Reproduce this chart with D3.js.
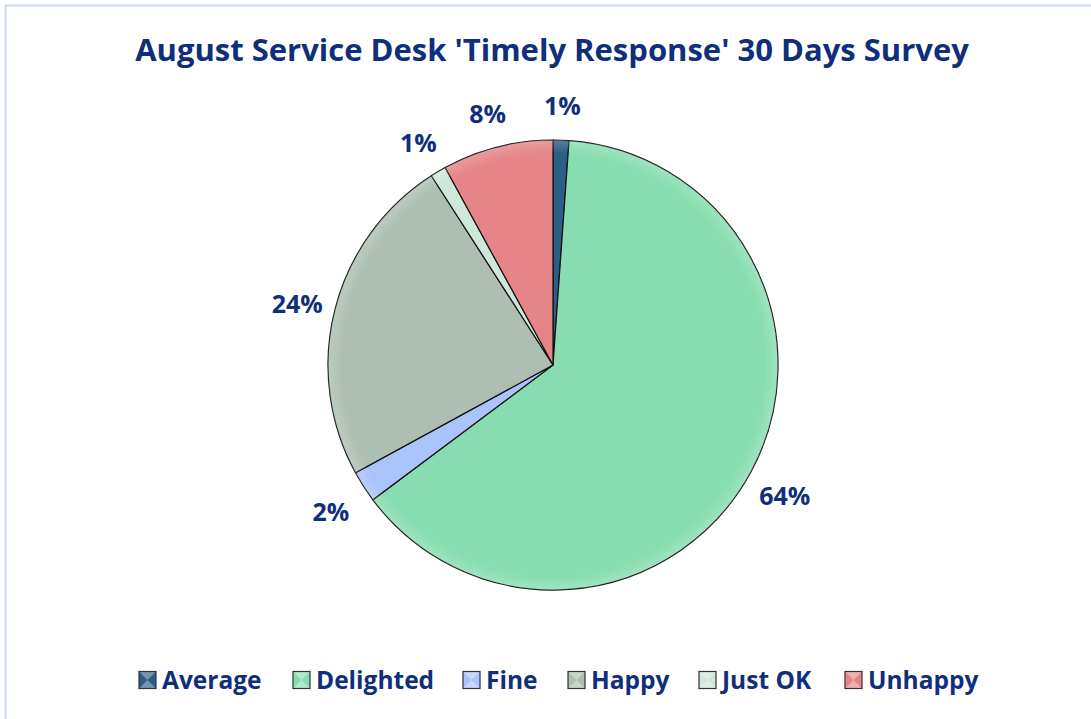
<!DOCTYPE html>
<html>
<head>
<meta charset="utf-8">
<script src="https://cdn.jsdelivr.net/npm/d3@7"></script>
<style>
  body { margin: 0; background: #fff; }
  text { font-family: "Open Sans", Lato, sans-serif; font-weight: bold; fill: #0f2f7a; }
</style>
</head>
<body>
<script>
 // survey responses (counts)
 const categories = ['Average', 'Delighted', 'Fine', 'Happy', 'Just OK', 'Unhappy'];
 const counts = [1, 56, 2, 21, 1, 7];
 const colors = ['#2b5f88', '#88ddb0', '#a9c3fb', '#adbfb2', '#cfe7d8', '#e68587'];
 const title = "August Service Desk 'Timely Response' 30 Days Survey";

 // constants
 const width = 1091;
 const height = 719;
 const cx = 553, cy = 365, radius = 225;
 const labelRadius = 264;

 const svg = d3.select('body').append('svg')
       .attr('width', width).attr('height', height);

 // chart border
 svg.append('rect').attr('x', 5.5).attr('y', 5.5)
    .attr('width', width + 20).attr('height', height + 20)
    .attr('fill', 'none').attr('stroke', '#cdd9f5').attr('stroke-width', 2);

 // title
 svg.append('text').attr('x', 552).attr('y', 61)
    .attr('text-anchor', 'middle').style('font-size', '31px')
    .text(title);

 const total = d3.sum(counts);
 const data = categories.map((c, i) => ({ name: c, value: counts[i], color: colors[i] }));

 const pie = d3.pie().value(d => d.value).sort(null);
 const arcs = pie(data);
 const arc = d3.arc().innerRadius(0).outerRadius(radius);
 const labelArc = d3.arc().innerRadius(labelRadius).outerRadius(labelRadius);

 // soft bevel gradient
 const defs = svg.append('defs');
 const grad = defs.append('radialGradient').attr('id', 'shade')
    .attr('cx', 0.5).attr('cy', 0.5).attr('r', 0.5);
 grad.append('stop').attr('offset', '0%').attr('stop-color', '#fff').attr('stop-opacity', 0);
 grad.append('stop').attr('offset', '94%').attr('stop-color', '#fff').attr('stop-opacity', 0.0);
 grad.append('stop').attr('offset', '100%').attr('stop-color', '#fff').attr('stop-opacity', 0.2);

 const g = svg.append('g').attr('transform', `translate(${cx},${cy})`);

 g.selectAll('path.slice').data(arcs).enter().append('path')
    .attr('class', 'slice')
    .attr('d', arc)
    .attr('fill', d => d.data.color)
    .attr('stroke', '#111').attr('stroke-width', 1.2);

 g.append('circle').attr('r', radius).attr('fill', 'url(#shade)').attr('pointer-events', 'none');

 // percent labels (slightly lower anchor, like the original)
 g.append('g').attr('transform', 'translate(0,5)')
    .selectAll('text.lbl').data(arcs).enter().append('text')
    .attr('class', 'lbl')
    .attr('transform', d => `translate(${labelArc.centroid(d)})`)
    .attr('text-anchor', 'middle').attr('dy', '0.35em')
    .style('font-size', '25px')
    .text(d => `${Math.round(d.data.value / total * 100)}%`);

 // legend
 const legendX = [139, 293, 463, 568, 699, 845];
 const legendY = 680;
 const sz = 17;
 const lg = svg.append('g').selectAll('g').data(data).enter().append('g')
    .attr('transform', (d, i) => `translate(${legendX[i]},${legendY - sz / 2})`);
 lg.append('rect').attr('width', sz).attr('height', sz)
    .attr('fill', d => d.color);
 lg.append('path').attr('d', `M0,0L${sz},0L${sz / 2},${sz / 2}ZM0,${sz}L${sz},${sz}L${sz / 2},${sz / 2}Z`)
    .attr('fill', '#fff').attr('opacity', 0.35);
 lg.append('rect').attr('width', sz).attr('height', sz)
    .attr('fill', 'none').attr('stroke', '#333').attr('stroke-width', 1.2);
 lg.append('text').attr('x', sz + 6).attr('y', sz / 2).attr('dy', '0.35em')
    .style('font-size', '24.5px')
    .text(d => d.name);
</script>
</body>
</html>
